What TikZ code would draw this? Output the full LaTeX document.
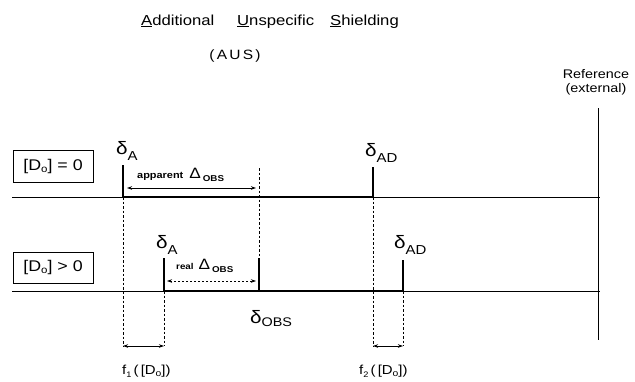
\documentclass[tikz,border=0pt]{standalone}
\usepackage{fontspec}
\setmainfont{Liberation Sans}[FakeStretch=1.15]
\usetikzlibrary{arrows.meta}
\newcommand{\fsz}[1]{\fontsize{#1}{#1}\selectfont}
\begin{document}
\begin{tikzpicture}[x=1pt,y=-1pt,
  thinline/.style={line width=0.9pt},
  thickline/.style={line width=1.7pt},
  peakline/.style={line width=2.2pt},
  guide/.style={line width=0.8pt, dash pattern=on 2.5pt off 2pt},
  dbl/.style={{Stealth[length=5pt,width=3.5pt]}-{Stealth[length=5pt,width=3.5pt]}, line width=0.9pt},
  dotdbl/.style={{Stealth[length=5pt,width=3.5pt]}-{Stealth[length=5pt,width=3.5pt]}, line width=0.8pt, dash pattern=on 2pt off 2pt},
  lab/.style={inner sep=0pt, anchor=base west},
  boxlab/.style={draw, line width=0.9pt, inner sep=0pt, minimum width=80pt, font=\fsz{15.5}},
]
\useasboundingbox (0,0) rectangle (635,381);

% title
\node[lab, font=\fsz{14.5}] (t1) at (141,25) {\underline{A}dditional};
\node[lab, font=\fsz{14.5}] (t2) at (237,25) {\underline{U}nspecific};
\node[lab, font=\fsz{14.5}] (t3) at (330,25) {\underline{S}hielding};
\node[inner sep=0pt, anchor=base, font=\fsz{13.5}] (aus) at (235,59) {(\,A\,U\,S\,)};
\node[inner sep=0pt, anchor=base, font=\fsz{12.5}] (ref1) at (596,78) {Reference};
\node[inner sep=0pt, anchor=base, font=\fsz{12.5}] (ref2) at (596,92) {(external)};

% coordinates
\coordinate (L1) at (12,197);  \coordinate (R1) at (600,197);
\coordinate (A1b) at (123,197); \coordinate (A1t) at (123,165);
\coordinate (D1b) at (373,197); \coordinate (D1t) at (373,167);
\coordinate (L2) at (12,291);  \coordinate (R2) at (600,291);
\coordinate (A2b) at (164,291); \coordinate (A2t) at (164,258);
\coordinate (O2b) at (259,291); \coordinate (O2t) at (259,258);
\coordinate (D2b) at (403,291); \coordinate (D2t) at (403,260);
\coordinate (Rt) at (598,108); \coordinate (Rb) at (598,340);
\coordinate (G1t) at (259,168);
\coordinate (A1d) at (123,346); \coordinate (A2d) at (164,346);
\coordinate (D1d) at (373,346); \coordinate (D2d) at (403,346);
\coordinate (ap1) at (127,188); \coordinate (ap2) at (256,188);
\coordinate (re1) at (167,281); \coordinate (re2) at (256,281);

% boxes
\node[boxlab, minimum height=32pt] (box1) at (53,166) {[D\raisebox{-2pt}{\fsz{10}o}] = 0};
\node[boxlab, minimum height=31pt] (box2) at (53,267.5) {[D\raisebox{-2pt}{\fsz{10}o}] > 0};

% reference line
\draw[line width=0.8pt] (Rt) -- (Rb);

% baselines
\draw[thinline] (L1) -- (R1);
\draw[thickline] (A1b) -- (D1b);
\draw[thinline] (L2) -- (R2);
\draw[thickline] (A2b) -- (D2b);

% peaks
\draw[peakline] (A1b) -- (A1t);
\draw[peakline] (D1b) -- (D1t);
\draw[peakline] (A2b) -- (A2t);
\draw[peakline] (O2b) -- (O2t);
\draw[peakline] (D2b) -- (D2t);

% guides
\draw[guide] (A1b) -- (A1d);
\draw[guide] (G1t) -- (O2t);
\draw[guide] (A2b) -- (A2d);
\draw[guide] (D1b) -- (D1d);
\draw[guide] (D2b) -- (D2d);

% arrows
\draw[dbl] (ap1) -- (ap2);
\draw[dotdbl] (re1) -- (re2);
\draw[dbl] (A1d) -- (A2d);
\draw[dbl] (D1d) -- (D2d);

% peak labels
\node[lab] (lA1) at (116,154) {{\fsz{18}δ}\raisebox{-6pt}{\fsz{13}A}};
\node[lab] (lD1) at (365,156) {{\fsz{18}δ}\raisebox{-6pt}{\fsz{13}AD}};
\node[lab] (lA2) at (156,248) {{\fsz{18}δ}\raisebox{-6pt}{\fsz{13}A}};
\node[lab] (lD2) at (394,248) {{\fsz{18}δ}\raisebox{-6pt}{\fsz{13}AD}};
\node[lab] (lO2) at (250,323) {{\fsz{18}δ}\raisebox{-3pt}{\fsz{12.5}OBS}};

% delta labels
\node[lab] (app) at (137,178) {{\bfseries\fsz{9.5}apparent}\hspace{6pt}{\fsz{15}Δ}\hspace{2pt}\raisebox{-3pt}{\bfseries\fsz{8.5}OBS}};
\node[lab] (rea) at (176,269) {{\bfseries\fsz{8.5}real}\hspace{5pt}{\fsz{15}Δ}\hspace{2pt}\raisebox{-3pt}{\bfseries\fsz{8.5}OBS}};

% f labels
\node[lab, font=\fsz{13}] (f1) at (122,374) {f\raisebox{-3pt}{\fsz{8}1}\,(\,[D\raisebox{-2pt}{\fsz{9}o}])};
\node[lab, font=\fsz{13}] (f2) at (359,374) {f\raisebox{-3pt}{\fsz{8}2}\,(\,[D\raisebox{-2pt}{\fsz{9}o}])};
\end{tikzpicture}
\end{document}
